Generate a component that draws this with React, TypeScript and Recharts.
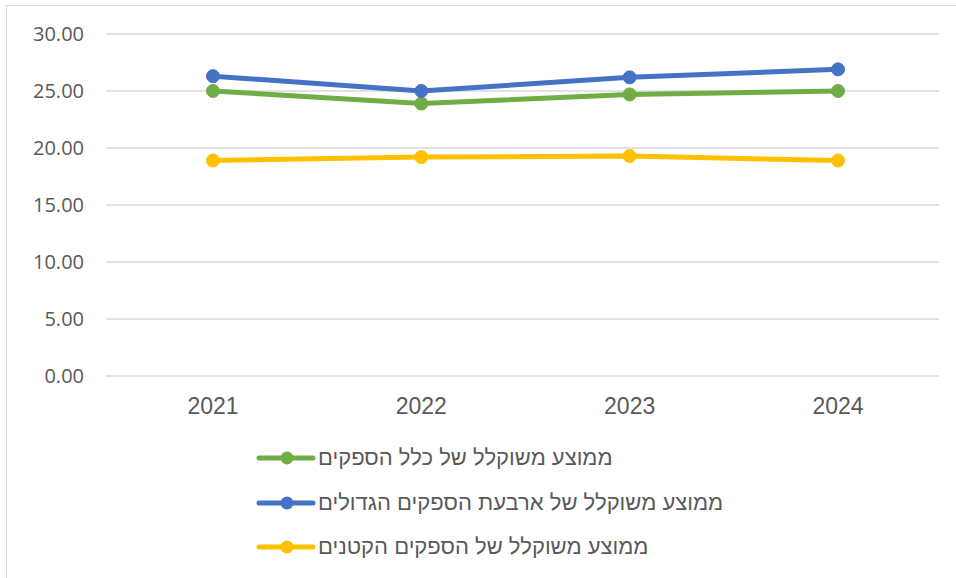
import { LineChart, Line, XAxis, YAxis, CartesianGrid } from 'recharts';

const years = ['2021', '2022', '2023', '2024'];
const allProviders = [25.0, 23.9, 24.7, 25.0];
const bigFour = [26.3, 25.0, 26.2, 26.9];
const smallProviders = [18.9, 19.2, 19.3, 18.9];
const yTicks = [0, 5, 10, 15, 20, 25, 30];

const series = [
  { key: 'all', name: 'ממוצע משוקלל של כלל הספקים', color: '#70ad47' },
  { key: 'big', name: 'ממוצע משוקלל של ארבעת הספקים הגדולים', color: '#4472c4' },
  { key: 'small', name: 'ממוצע משוקלל של הספקים הקטנים', color: '#ffc000' },
];

const data = years.map((y, i) => ({
  year: y,
  all: allProviders[i],
  big: bigFour[i],
  small: smallProviders[i],
}));

const font = '"Open Sans", "Liberation Sans", "DejaVu Sans", sans-serif';
const arial = '"Liberation Sans", "DejaVu Sans", sans-serif';

export default function App() {
  return (
    <div style={{ position: 'absolute', left: 0, top: 0, width: 956, height: 578, background: '#fff', fontFamily: font, overflow: 'hidden' }}>
      <div style={{ position: 'absolute', left: 6, top: 5, width: 960, height: 580, border: '1px solid #d9d9d9' }} />
      <LineChart width={956} height={578} data={data} margin={{ top: 34, right: 17, bottom: 172, left: 0 }}>
        <CartesianGrid vertical={false} stroke="#d9d9d9" strokeWidth={1.5} />
        <XAxis
          dataKey="year"
          axisLine={false}
          tickLine={false}
          tickMargin={16}
          padding={{ left: 107, right: 101 }}
          tick={{ fontSize: 23, fill: '#595959', fontFamily: arial }}
        />
        <YAxis
          width={106}
          domain={[0, 30]}
          ticks={yTicks}
          tickFormatter={v => v.toFixed(2)}
          axisLine={false}
          tickLine={false}
          tickMargin={16}
          tick={{ fontSize: 20, fill: '#595959', fontFamily: font }}
        />
        {series.map(s => (
          <Line
            key={s.key}
            dataKey={s.key}
            name={s.name}
            stroke={s.color}
            strokeWidth={5}
            dot={{ r: 6.5, fill: s.color, stroke: s.color, strokeWidth: 1 }}
            isAnimationActive={false}
          />
        ))}
      </LineChart>
      {series.map((s, i) => (
        <div
          key={s.key}
          style={{ position: 'absolute', left: 256, top: 446 + i * 44.5, height: 24, display: 'flex', alignItems: 'center' }}
        >
          <svg width={60} height={20}>
            <line x1={3} y1={10} x2={57} y2={10} stroke={s.color} strokeWidth={5} strokeLinecap="round" />
            <circle cx={31} cy={10} r={6.5} fill={s.color} />
          </svg>
          <span style={{ fontSize: 22, color: '#595959', fontFamily: arial, direction: 'rtl', marginLeft: 2 }}>
            {s.name}
          </span>
        </div>
      ))}
    </div>
  );
}
